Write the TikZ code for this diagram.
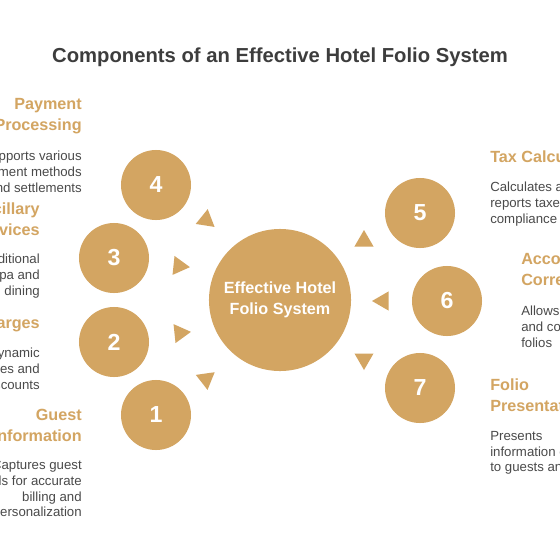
\documentclass[tikz,border=0pt]{standalone}
\usepackage{fontspec}
\setmainfont{Liberation Sans}
\usetikzlibrary{shapes}

\definecolor{gold}{HTML}{D3A562}
\definecolor{titlegray}{HTML}{3D3D3D}
\definecolor{bodygray}{HTML}{4A4A4A}

\tikzset{
  num/.style={circle,fill=gold,minimum size=1.75cm,inner sep=0pt,text=white,
    font=\fontsize{16.5}{18}\selectfont\bfseries},
  hub/.style={circle,fill=gold,minimum size=3.55cm,inner sep=0pt,align=center,
    text=white,font=\fontsize{11.5}{15}\selectfont\bfseries},
  tri/.style={regular polygon,regular polygon sides=3,fill=gold,
    minimum size=0.55cm,inner sep=0pt},
  head/.style={text=gold,inner sep=0pt,font=\fontsize{11.5}{15}\selectfont\bfseries},
  desc/.style={text=bodygray,inner sep=0pt,font=\fontsize{9.4}{11.2}\selectfont},
}

\begin{document}
\begin{tikzpicture}[x=0.025cm,y=-0.025cm]
\useasboundingbox[fill=white] (0,0) rectangle (560,560);
\clip (0,0) rectangle (560,560);

\node[anchor=base,text=titlegray,font=\fontsize{14.4}{17}\selectfont\bfseries] (title) at (280,62)
  {Components of an Effective Hotel Folio System};

% hub
\node[hub] (hub) at (280,300) {Effective Hotel\\Folio System};

% numbered circles
\node[num] (c1) at (156,415) {1};
\node[num] (c2) at (114,342) {2};
\node[num] (c3) at (114,258) {3};
\node[num] (c4) at (156,185) {4};
\node[num] (c5) at (420,213) {5};
\node[num] (c6) at (447,301) {6};
\node[num] (c7) at (420,388) {7};

% arrow heads
\node[tri,rotate=-52] (t1) at (206,379) {};
\node[tri,rotate=-84] (t2) at (180,333) {};
\node[tri,rotate=-96] (t3) at (179,266) {};
\node[tri,rotate=-129] (t4) at (206,220) {};
\node[tri] (t5) at (364,241) {};
\node[tri,rotate=90] (t6) at (383,301) {};
\node[tri,rotate=180] (t7) at (364,359) {};

% left side
\node[head,anchor=north east,align=right] (h4) at (82,98) {Payment\\Processing};
\node[desc,anchor=north east,align=right] (d4) at (82,151) {Supports various\\payment methods\\and settlements};
\node[head,anchor=north east,align=right] (h3) at (40,202) {Ancillary\\Services};
\node[desc,anchor=north east,align=right] (d3) at (40,254) {Tracks additional\\charges like spa and\\dining};
\node[head,anchor=north east,align=right] (h2) at (40,316) {Room Charges};
\node[desc,anchor=north east,align=right] (d2) at (40,348) {Manages dynamic\\room rates and\\discounts};
\node[head,anchor=north east,align=right] (h1) at (82,409) {Guest\\Information};
\node[desc,anchor=north east,align=right] (d1) at (82,460) {Captures guest\\details for accurate\\billing and\\personalization};

% right side
\node[head,anchor=north west,align=left] (h5) at (490,150) {Tax Calculation};
\node[desc,anchor=north west,align=left] (d5) at (490,182) {Calculates and\\reports taxes for\\compliance};
\node[head,anchor=north west,align=left] (h6) at (521,253) {Account\\Corrections};
\node[desc,anchor=north west,align=left] (d6) at (521,306) {Allows adjustments\\and corrections to\\folios};
\node[head,anchor=north west,align=left] (h7) at (490,378) {Folio\\Presentation};
\node[desc,anchor=north west,align=left] (d7) at (490,431) {Presents\\information clearly\\to guests and staff};

\end{tikzpicture}
\end{document}
